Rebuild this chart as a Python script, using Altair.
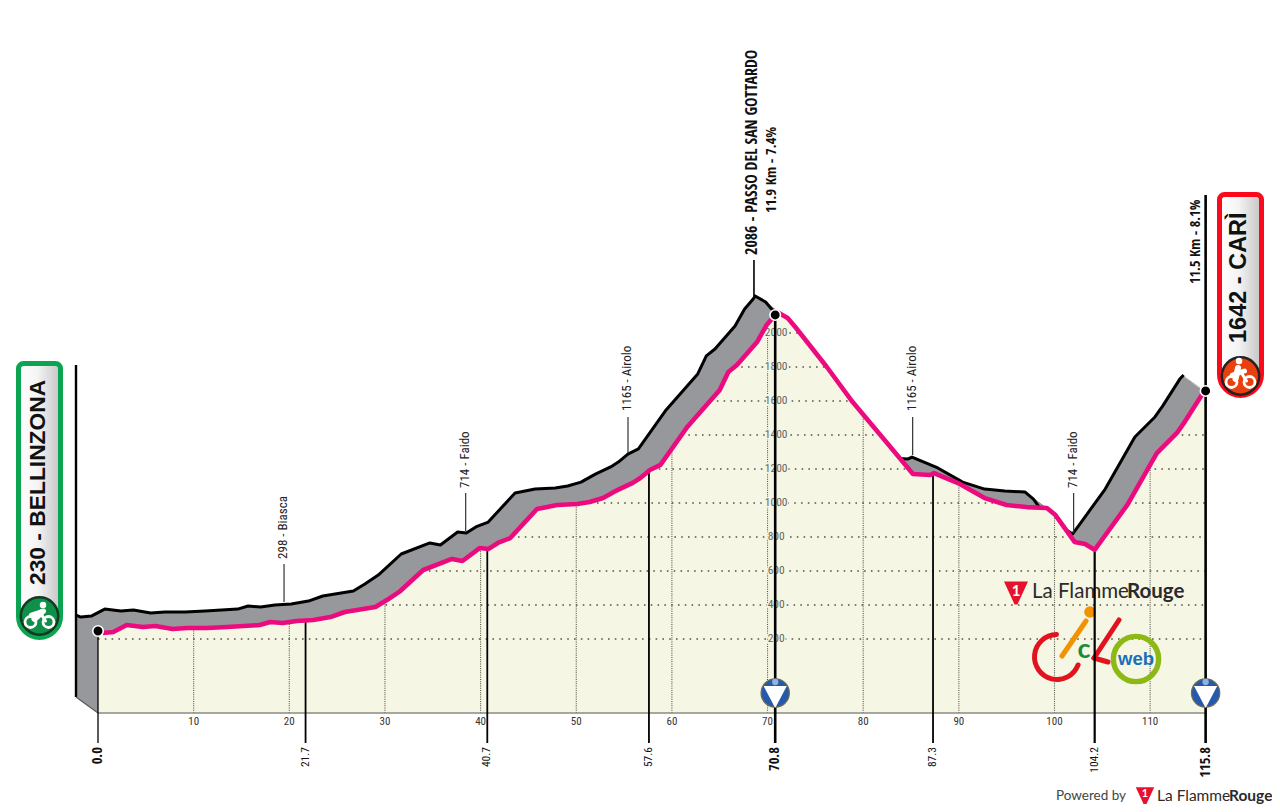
import altair as alt
import numpy as np
import pandas as pd

# ---------- values ----------
profile_km = [0.0, 0.5, 1.6, 3.0, 4.7, 6.0, 7.8, 9.3, 11.4, 13.5, 16.9, 18.0, 19.3, 20.8, 22.5, 24.3, 25.8, 29.0,
              30.2, 31.6, 34.0, 37.0, 38.1, 39.9, 40.8, 41.8, 43.1, 45.9, 48.0, 50.1, 51.4, 52.8, 54.3, 55.9,
              56.7, 57.7, 58.8, 61.6, 65.0, 65.9, 66.8, 68.9, 69.9, 70.8, 71.0, 72.1, 72.9, 76.2, 78.9, 82.5,
              85.2, 87.0, 87.4, 90.1, 92.7, 95.0, 97.1, 99.2, 100.1, 102.1, 103.2, 104.2, 105.1, 107.6, 110.7,
              112.8, 113.6, 115.4, 115.8]
profile_ele = [247, 235, 241, 282, 271, 276, 259, 265, 265, 271, 282, 300, 294, 306, 312, 329, 359, 388,
               429, 482, 606, 671, 659, 735, 729, 765, 794, 965, 988, 994, 1006, 1029, 1076, 1118,
               1147, 1194, 1224, 1447, 1665, 1771, 1812, 1947, 2047, 2106, 2124, 2088, 2035, 1800, 1594, 1353,
               1171, 1165, 1176, 1112, 1029, 988, 976, 971, 929, 771, 759, 724, 794, 988, 1294,
               1412, 1476, 1635, 1659]

marker_km = [0.0, 21.7, 40.7, 57.6, 70.8, 87.3, 104.2, 115.8]
marker_labels = ["0.0", "21.7", "40.7", "57.6", "70.8", "87.3", "104.2", "115.8"]
km_ticks = [10, 20, 30, 40, 50, 60, 70, 80, 90, 100, 110]
ele_ticks = [200, 400, 600, 800, 1000, 1200, 1400, 1600, 1800, 2000]

place_labels = ["298 - Biasca", "714 - Faido", "1165 - Airolo", "1165 - Airolo", "714 - Faido"]
place_km = [19.45, 38.44, 55.41, 85.17, 102.0]
leader_hi = [641, 1059, 1506, 1506, 1059]
leader_lo = [418, 835, 1294, 1282, 824]
text_base = [671, 1088, 1541, 1541, 1088]

# ---------- geometry of the page ----------
W, H = 1264, 796
PX_KM, PX_M = 9.565, 0.17
X0, Y0 = 98, 673
BASE = -235
SHIFT_KM, SHIFT_M = -2.3, 94
xs = alt.Scale(domain=[(8 - X0) / PX_KM, (8 + W - X0) / PX_KM], nice=False, zero=False)
ys = alt.Scale(domain=[(Y0 - 8 - H) / PX_M, (Y0 - 8) / PX_M], nice=False, zero=False)
X = lambda f: alt.X(f, type="quantitative", scale=xs, axis=None)
Y = lambda f: alt.Y(f, type="quantitative", scale=ys, axis=None)
one = pd.DataFrame({"a": [0]})
NARROW = "Roboto Condensed"
NARROW_BOLD = "Open Sans Condensed"

px = lambda v: alt.value(v - 8)
layers = []

def interp(k):
    return float(np.interp(k, profile_km, profile_ele))

front = pd.DataFrame({"km": profile_km, "ele": profile_ele, "base": BASE})

# extruded band, swept from front profile to back profile
rows = []
for t in np.linspace(0, 1, 25):
    rows.append(pd.DataFrame({"km": front.km + SHIFT_KM * t, "ele": front.ele + SHIFT_M * t,
                              "base": BASE + SHIFT_M * t, "t": t}))
sweep = pd.concat(rows)
layers.append(alt.Chart(sweep).mark_area(color="#97989b", strokeWidth=0).encode(
    x=X("km"), y=Y("ele"), y2=alt.Y2("base"), detail="t:N"))
back = front.assign(km=front.km + SHIFT_KM, ele=front.ele + SHIFT_M)
layers.append(alt.Chart(back).mark_line(color="#000000", strokeWidth=3, strokeJoin="round").encode(
    x=X("km"), y=Y("ele")))
# back post at the start
layers.append(alt.Chart(pd.DataFrame({"km": [SHIFT_KM], "a": [BASE + SHIFT_M], "b": [1812]})).mark_rule(
    color="#000000", strokeWidth=2.4).encode(x=X("km"), y=Y("a"), y2=alt.Y2("b")))
layers.append(alt.Chart(pd.DataFrame({"km": [SHIFT_KM], "k2": [0.0], "a": [BASE + SHIFT_M], "b": [BASE]})).mark_rule(
    color="#55565a", strokeWidth=1.2).encode(x=X("km"), x2=alt.X2("k2"), y=Y("a"), y2=alt.Y2("b")))

# front face
layers.append(alt.Chart(front).mark_area(color="#f5f6e3", strokeWidth=0).encode(
    x=X("km"), y=Y("ele"), y2=alt.Y2("base")))

# grids clipped to the profile
segs = []
for lv in ele_ticks:
    inside = False
    start = None
    e = np.array(profile_ele, float)
    k = np.array(profile_km, float)
    for i in range(len(k) - 1):
        a, b = e[i] - lv, e[i + 1] - lv
        if a >= 0 and not inside:
            inside, start = True, k[i]
        if (a >= 0) != (b >= 0):
            c = k[i] + (k[i + 1] - k[i]) * a / (a - b)
            if inside:
                segs.append((lv, start, c))
                inside = False
            else:
                inside, start = True, c
    if inside:
        segs.append((lv, start, k[-1]))
hgrid = pd.DataFrame(segs, columns=["ele", "k1", "k2"])
layers.append(alt.Chart(hgrid).mark_rule(color="#55554a", strokeWidth=1.3, strokeDash=[1.6, 5.2]).encode(
    x=X("k1"), x2=alt.X2("k2"), y=Y("ele")))
vgrid = pd.DataFrame({"km": km_ticks, "top": [interp(k) for k in km_ticks], "base": BASE})
layers.append(alt.Chart(vgrid).mark_rule(color="#55554a", strokeWidth=1.1, strokeDash=[1, 1.2]).encode(
    x=X("km"), y=Y("base"), y2=alt.Y2("top")))

# base line
layers.append(alt.Chart(pd.DataFrame({"k1": [0.0], "k2": [115.8], "e": [BASE]})).mark_rule(
    color="#8b8b84", strokeWidth=1.6).encode(x=X("k1"), x2=alt.X2("k2"), y=Y("e")))

# elevation labels on the summit line
ele_df = pd.DataFrame({"km": 70.9, "ele": [e for e in ele_ticks], "txt": [str(e) for e in ele_ticks]})
layers.append(alt.Chart(ele_df).mark_text(font=NARROW, fontSize=11.5, color="#f5f6e3", stroke="#f5f6e3", strokeWidth=3).encode(
    x=X("km"), y=Y("ele"), text="txt:N"))
layers.append(alt.Chart(ele_df).mark_text(font=NARROW, fontSize=11.5, color="#666660").encode(
    x=X("km"), y=Y("ele"), text="txt:N"))

# km tick labels
tick_df = pd.DataFrame({"km": km_ticks, "e": -288, "txt": [str(k) for k in km_ticks]})
layers.append(alt.Chart(tick_df).mark_text(font=NARROW, fontSize=11, color="#333333").encode(
    x=X("km"), y=Y("e"), text="txt:N"))

# ---------- logo: La FlammeRouge on the plot ----------
def flame(x, y, size, one_size):
    path = "M-1,-0.95 L1,-0.95 L0.12,0.95 L-0.12,0.95 Z"
    return [
        alt.Chart(one).mark_point(shape=path, filled=True, color="#e8112d", size=size, opacity=1).encode(x=px(x), y=px(y)),
        alt.Chart(one).mark_text(text="1", font="Lato", fontWeight="bold", fontSize=one_size, color="#ffffff").encode(x=px(x), y=px(y - 2)),
    ]

def words(x, xr, base, fs, color="#2b2b2b"):
    return [
        alt.Chart(one).mark_text(text="La Flamme", font="Lato", fontSize=fs, align="left", baseline="alphabetic", color=color).encode(x=px(x), y=px(base)),
        alt.Chart(one).mark_text(text="Rouge", font="Lato", fontWeight="bold", fontSize=fs, align="left", baseline="alphabetic", color=color).encode(x=px(xr), y=px(base)),
    ]

layers += flame(1016, 593, 576, 15)
layers += words(1032, 1127, 598, 20.5)

# ciclo web logo
def stroke(x1, y1, x2, y2, col, w=5):
    return alt.Chart(one).mark_rule(color=col, strokeWidth=w, strokeCap="round").encode(
        x=px(x1), x2=px(x2), y=px(y1), y2=px(y2))

layers.append(alt.Chart(one).mark_arc(theta=1.82, theta2=6.37, outerRadius=25, innerRadius=20, cornerRadius=2.5, color="#e2131f").encode(
    x=px(1057), y=px(657)))
layers.append(stroke(1062, 656, 1086, 621, "#f39200"))
layers.append(alt.Chart(one).mark_point(shape="circle", filled=True, color="#f39200", size=135, opacity=1).encode(x=px(1090), y=px(612)))
layers.append(alt.Chart(one).mark_text(text="c", font="Lato", fontWeight="bold", fontSize=27, color="#1a8a3c").encode(x=px(1084), y=px(650)))
layers.append(stroke(1119, 620, 1094, 658, "#e2131f"))
layers.append(stroke(1094, 658, 1108, 662, "#e2131f"))
layers.append(alt.Chart(one).mark_point(shape="circle", filled=False, color="#8db916", size=2050, strokeWidth=5.4, opacity=1).encode(x=px(1136), y=px(659)))
layers.append(alt.Chart(one).mark_text(text="web", font="Liberation Sans", fontWeight="bold", fontSize=18.5, color="#1a6fb8").encode(x=px(1136), y=px(659)))

# ---------- climbing markers, leaders ----------
m_top = [interp(k) for k in marker_km]
m_top[-1] = (Y0 - 195) / PX_M
m_df = pd.DataFrame({"km": marker_km, "top": m_top, "low": (Y0 - 743) / PX_M,
                     "w": [1.3, 1.8, 1.8, 1.8, 2.6, 1.8, 2.2, 2.6]})
layers.append(alt.Chart(m_df).mark_rule(color="#000000").encode(
    x=X("km"), y=Y("top"), y2=alt.Y2("low"), strokeWidth=alt.StrokeWidth("w:Q", scale=None)))

lead = pd.DataFrame({"km": place_km, "hi": leader_hi, "lo": leader_lo})
layers.append(alt.Chart(lead).mark_rule(color="#333333", strokeWidth=1.2).encode(
    x=X("km"), y=Y("hi"), y2=alt.Y2("lo")))
layers.append(alt.Chart(pd.DataFrame({"km": [68.58], "hi": [2429], "lo": [2218]})).mark_rule(
    color="#000000", strokeWidth=1.6).encode(x=X("km"), y=Y("hi"), y2=alt.Y2("lo")))

# pink road
layers.append(alt.Chart(front[front.km >= 0.5]).mark_line(color="#ec0b7e", strokeWidth=4.6, strokeJoin="round").encode(
    x=X("km"), y=Y("ele")))

# start / summit / finish dots
dots = pd.DataFrame({"km": [0.0, 70.8, 115.8], "ele": [247, 2106, 1659]})
layers.append(alt.Chart(dots).mark_point(shape="circle", filled=True, color="#000000", stroke="#ffffff", strokeWidth=1.6, size=110, opacity=1).encode(
    x=X("km"), y=Y("ele")))

# KOM pins
pins = pd.DataFrame({"km": [70.8, 115.8], "e": [(Y0 - 693) / PX_M] * 2})
layers.append(alt.Chart(pins).mark_point(shape="circle", filled=True, color="#2459ab", stroke="#6f6a55", strokeWidth=1.2, size=800, opacity=1).encode(
    x=X("km"), y=Y("e")))
layers.append(alt.Chart(pins).mark_point(shape="M-0.82,-0.5 L0.82,-0.5 L0.03,1 L-0.03,1 Z", filled=True, color="#ffffff", size=800, opacity=1).encode(
    x=X("km"), y=Y("e")))
layers.append(alt.Chart(pins.assign(e=(Y0 - 682) / PX_M)).mark_point(shape="circle", filled=True, color="#8fb2e0", size=40, opacity=1).encode(
    x=X("km"), y=Y("e")))

# ---------- vertical texts ----------
def vtext(labels, kms, eles, fs, color="#111111", weight="normal", align="left", font=NARROW):
    d = pd.DataFrame({"km": kms, "e": eles, "txt": labels})
    return alt.Chart(d).mark_text(angle=270, align=align, baseline="middle", font=font, fontSize=fs,
                                  fontWeight=weight, color=color).encode(x=X("km"), y=Y("e"), text="txt:N")

layers.append(vtext(place_labels, [k - 0.1 for k in place_km], text_base, 13, color="#222222"))
layers.append(vtext(["2086 - PASSO DEL SAN GOTTARDO"], [68.4], [2459], 15.9, font=NARROW_BOLD, weight="bold"))
layers.append(vtext(["11.9 Km - 7.4%"], [70.47], [2706], 14.5, font=NARROW_BOLD, weight="bold"))
layers.append(vtext(["11.5 Km - 8.1%"], [114.8], [2288], 14.2, font=NARROW_BOLD, weight="bold"))

low_lab = (Y0 - 747) / PX_M
thin = [1, 2, 3, 5, 6]
bold = [0, 4, 7]
layers.append(vtext([marker_labels[i] for i in thin], [marker_km[i] for i in thin], [low_lab] * 5, 11.5, align="right"))
layers.append(vtext([marker_labels[i] for i in bold], [marker_km[i] for i in bold], [low_lab] * 3, 14.5, align="right", font=NARROW_BOLD, weight="bold"))

# ---------- banners ----------
grad = alt.LinearGradient(gradient="linear", x1=0, x2=1, y1=0, y2=0,
                          stops=[alt.GradientStop(offset=0, color="#ffffff"),
                                 alt.GradientStop(offset=0.45, color="#f4f4f4"),
                                 alt.GradientStop(offset=1, color="#c4c4c4")])

def banner(x1, x2, y1, y2, col):
    return alt.Chart(one).mark_rect(fill=grad, stroke=col, strokeWidth=5, cornerRadiusTopLeft=5, cornerRadiusTopRight=5,
                                    cornerRadiusBottomLeft=21, cornerRadiusBottomRight=21, opacity=1).encode(
        x=px(x1), x2=px(x2), y=px(y1), y2=px(y2))

def bike(cx, cy, head_x, head_y, fill, stroke_col):
    parts = [alt.Chart(one).mark_point(shape="circle", filled=True, color=fill, stroke=stroke_col, strokeWidth=2.5, size=1400, opacity=1).encode(x=px(cx), y=px(cy))]
    for dx in (-9, 9):
        parts.append(alt.Chart(one).mark_point(shape="circle", filled=False, color="#ffffff", strokeWidth=2.8, size=120, opacity=1).encode(x=px(cx + dx), y=px(cy + 6)))
    parts.append(stroke(cx - 5, cy + 3, head_x - 1, head_y + 7, "#ffffff", 6))
    parts.append(stroke(cx - 8, cy - 1, cx + 4, cy - 5, "#ffffff", 5))
    parts.append(stroke(cx + 1, cy - 3, cx + 6, cy + 5, "#ffffff", 3))
    parts.append(alt.Chart(one).mark_point(shape="circle", filled=True, color="#ffffff", size=42, opacity=1).encode(x=px(head_x), y=px(head_y)))
    return parts

layers.append(banner(18.5, 60.5, 363.5, 637.5, "#0ba552"))
layers += bike(39.5, 616, 43, 605, "#0f8f47", "#103a24")
layers.append(alt.Chart(one).mark_text(text="230 - BELLINZONA", angle=270, align="left", baseline="middle", font="Liberation Sans",
                                        fontWeight="bold", fontSize=22.8, color="#111111").encode(x=px(38), y=px(585)))

layers.append(banner(1219.5, 1261.5, 194.5, 395.5, "#fb0a1e"))
layers += bike(1240.5, 376, 1239, 361, "#e8400f", "#222222")
layers.append(alt.Chart(one).mark_text(text="1642 - CARÌ", angle=270, align="left", baseline="middle", font="Liberation Sans",
                                        fontWeight="bold", fontSize=23.5, color="#111111").encode(x=px(1239), y=px(343)))

# ---------- footer ----------
layers.append(alt.Chart(one).mark_text(text="Powered by", font="Lato", fontSize=13.5, align="left", baseline="alphabetic", color="#444444").encode(x=px(1056), y=px(800)))
layers += flame(1145, 796, 340, 11)
layers += words(1157, 1229, 801, 15.5)

chart = alt.layer(*layers).properties(
    width=W, height=H, padding=0, autosize=alt.AutoSizeParams(type="none"),
    background="#ffffff"
).configure_view(stroke=None)

chart.save("out.html", embed_options={"renderer": "svg", "actions": False})
